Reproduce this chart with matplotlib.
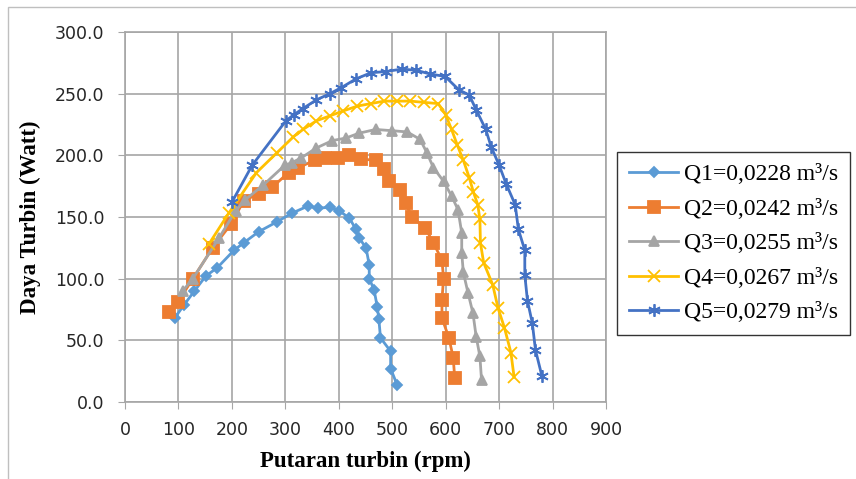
import matplotlib.pyplot as plt
from matplotlib.patches import Rectangle
from matplotlib.ticker import FormatStrFormatter

plt.rcParams["font.family"] = ["Liberation Serif", "DejaVu Serif"]

# Data
q1_rpm = [93, 111, 130, 151, 173, 204, 222, 250, 284, 312, 343, 361, 383, 401, 420, 432, 438, 451, 457, 457, 466, 472, 475, 478, 497, 497, 509]
q1_w = [68, 79, 90, 102, 109, 123, 129, 138, 146, 153, 159, 157, 158, 155, 149, 140, 133, 125, 111, 100, 91, 77, 67, 52, 41, 27, 14]

q2_rpm = [83, 99, 127, 164, 198, 222, 250, 275, 306, 324, 355, 374, 398, 420, 441, 469, 485, 494, 515, 525, 537, 562, 577, 593, 596, 593, 593, 606, 614, 617]
q2_w = [73, 81, 100, 125, 144, 163, 169, 174, 186, 190, 196, 198, 198, 200, 197, 196, 189, 179, 172, 161, 150, 141, 129, 115, 100, 83, 68, 52, 36, 19]

q3_rpm = [108, 127, 176, 207, 225, 259, 299, 312, 330, 358, 388, 413, 438, 469, 500, 528, 552, 565, 577, 596, 611, 623, 630, 630, 633, 642, 651, 657, 664, 667]
q3_w = [90, 100, 133, 155, 164, 176, 192, 194, 198, 206, 212, 214, 218, 221, 220, 219, 213, 202, 190, 179, 167, 156, 137, 121, 105, 88, 72, 53, 37, 18]

q4_rpm = [157, 194, 246, 284, 315, 333, 358, 383, 408, 435, 460, 485, 509, 534, 559, 586, 600, 611, 622, 633, 644, 652, 660, 664, 665, 671, 688, 698, 710, 722, 728]
q4_w = [128, 153, 186, 202, 215, 221, 228, 232, 236, 240, 242, 244, 244, 244, 243, 242, 233, 221, 208, 196, 182, 170, 160, 148, 129, 113, 95, 76, 60, 40, 20]

q5_rpm = [200, 238, 301, 316, 333, 358, 383, 405, 432, 460, 488, 518, 545, 571, 599, 625, 644, 657, 675, 685, 700, 713, 730, 736, 748, 748, 753, 762, 768, 780]
q5_w = [162, 192, 228, 233, 238, 245, 250, 255, 262, 267, 268, 270, 269, 266, 264, 253, 249, 237, 221, 207, 192, 177, 160, 140, 123, 103, 82, 64, 42, 21]

labels = ["Q1=0,0228 m³/s", "Q2=0,0242 m³/s", "Q3=0,0255 m³/s", "Q4=0,0267 m³/s", "Q5=0,0279 m³/s"]
colors = ["#5B9BD5", "#ED7D31", "#A5A5A5", "#FFC000", "#4472C4"]
markers = ["D", "s", "^", "x", (6, 2, 0)]
msizes = [5, 8, 7, 8, 9]

fig = plt.figure(figsize=(8.56, 4.79), dpi=100)
ax = fig.add_axes([0.146, 0.161, 0.562, 0.772])

# chart border
fig.patches.append(Rectangle((8 / 856, -0.1), 1.2, 1 - 7 / 479 + 0.1, transform=fig.transFigure,
                             fill=False, edgecolor="#BFBFBF", linewidth=1))

series = [(q1_rpm, q1_w), (q2_rpm, q2_w), (q3_rpm, q3_w), (q4_rpm, q4_w), (q5_rpm, q5_w)]
for (x, y), lab, c, m, ms in zip(series, labels, colors, markers, msizes):
    ax.plot(x, y, color=c, marker=m, markersize=ms, linewidth=2, label=lab,
            markeredgewidth=1.3)

ax.set_xlim(0, 900)
ax.set_ylim(0, 300)
ax.set_xticks(range(0, 901, 100))
ax.set_yticks(range(0, 301, 50))
ax.yaxis.set_major_formatter(FormatStrFormatter("%.1f"))
ax.grid(True, color="#A6A6A6", linewidth=1.2)
ax.set_axisbelow(True)
for s in ax.spines.values():
    s.set_color("#A6A6A6")
    s.set_linewidth(1.2)
ax.tick_params(length=5, color="#A6A6A6", labelsize=12.5)
ax.tick_params(axis="y", pad=10)
ax.tick_params(axis="x", pad=9)
for t in ax.get_xticklabels() + ax.get_yticklabels():
    t.set_family("DejaVu Sans")
    t.set_color("#262626")

ax.set_xlabel("Putaran turbin (rpm)", fontsize=16.5, fontweight="bold", labelpad=8)
ax.set_ylabel("Daya Turbin (Watt)", fontsize=16.5, fontweight="bold", labelpad=10)

leg = ax.legend(loc="upper left", bbox_to_anchor=(617 / 856, 1 - 152 / 479), bbox_transform=fig.transFigure,
                fontsize=17, frameon=True, fancybox=False, edgecolor="black", handlelength=2.1,
                handletextpad=0.22, labelspacing=0.55, borderpad=0.5, borderaxespad=0)
leg.get_frame().set_linewidth(1)

fig.savefig("out.png", dpi=100)
